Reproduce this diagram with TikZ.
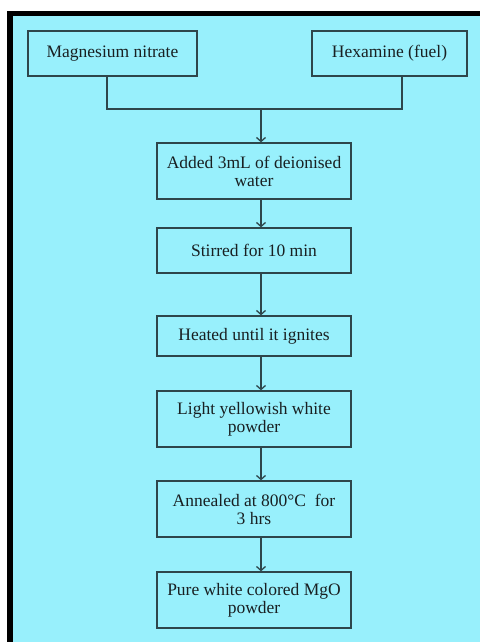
\documentclass[tikz,border=0pt]{standalone}
\usepackage{fontspec}
\setmainfont{Liberation Serif}
\usepackage{tikz}
\usetikzlibrary{arrows.meta}

\definecolor{panelcyan}{RGB}{152,240,252}
\definecolor{edgeslate}{RGB}{45,70,75}
\definecolor{inkdark}{RGB}{25,32,34}

\begin{document}
\begin{tikzpicture}[x=1pt,y=-1pt,
	box/.style={draw=edgeslate, line width=1.3pt, text=inkdark, align=center,
		minimum width=194pt, inner sep=0pt,
		font=\fontsize{17.5}{18}\selectfont},
	link/.style={draw=edgeslate, line width=1.3pt},
	arrow/.style={link, -{Straight Barb[length=4pt,width=9pt]}}]
	% Frame
	\useasboundingbox (0,0) rectangle (480,642);
	\fill[black] (7,11) rectangle (480,642);
	\fill[panelcyan] (12.5,16.5) rectangle (480,642);

	% Sources
	\node[box, minimum width=169pt, minimum height=45pt] (mg) at (112.5,53.5) {Magnesium nitrate};
	\node[box, minimum width=155pt, minimum height=45pt] (hex) at (389.5,53.5) {Hexamine (fuel)};

	% Steps
	\node[box, minimum height=56pt] (added) at (254,171) {Added 3mL of deionised\\water};
	\node[box, minimum height=45pt] (stirred) at (254,250.5) {Stirred for 10 min};
	\node[box, minimum height=40pt] (heated) at (254,336) {Heated until it ignites};
	\node[box, minimum height=56pt] (powder) at (254,419) {Light yellowish white\\powder};
	\node[box, minimum height=56pt] (annealed) at (254,509) {Annealed at 800°C\ \ for\\3 hrs};
	\node[box, minimum height=56pt] (mgo) at (254,600) {Pure white colored MgO\\powder};

	% Links
	\coordinate (mgdrop) at (107,109);
	\coordinate (hexdrop) at (402,109);
	\coordinate (join) at (261,109);
	\draw[link] (mg.south -| mgdrop) -- (mgdrop) -- (hexdrop) -- (hex.south -| hexdrop);
	\draw[arrow] (join) -- (added.north -| join);
	\draw[arrow] (added.south -| join) -- (stirred.north -| join);
	\draw[arrow] (stirred.south -| join) -- (heated.north -| join);
	\draw[arrow] (heated.south -| join) -- (powder.north -| join);
	\draw[arrow] (powder.south -| join) -- (annealed.north -| join);
	\draw[arrow] (annealed.south -| join) -- (mgo.north -| join);
\end{tikzpicture}
\end{document}
